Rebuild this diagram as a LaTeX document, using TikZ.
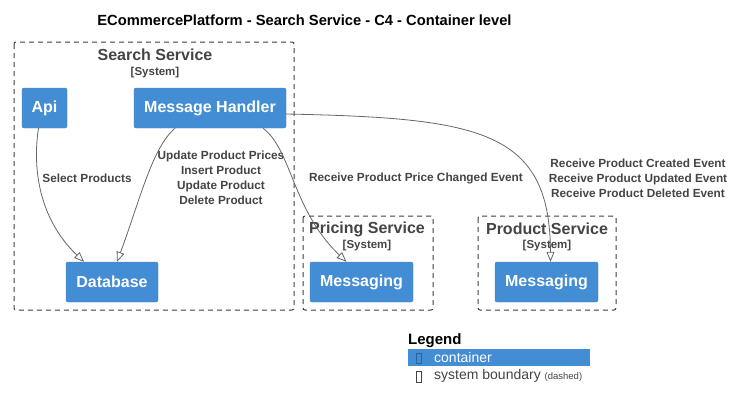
\documentclass[tikz,border=0pt]{standalone}
\usepackage{fontspec}
\setmainfont{Liberation Sans}
\usetikzlibrary{arrows.meta}
\definecolor{cblue}{HTML}{438DD5}
\definecolor{cgray}{HTML}{444444}
\definecolor{lgray}{HTML}{666666}
\begin{document}
\begin{tikzpicture}[x=1pt,y=-1pt,
    container/.style={fill=cblue, draw=cblue!90!black, rounded corners=2pt, text=white,
      font=\bfseries\fontsize{16}{18}\selectfont, minimum height=40pt, inner sep=0pt},
    boundary/.style={draw=cgray!90!black, line width=1pt, dash pattern=on 5pt off 4pt, rounded corners=2pt},
    btitle/.style={text=cgray, font=\bfseries\fontsize{16}{18}\selectfont},
    bsub/.style={text=cgray, font=\bfseries\fontsize{11.5}{13}\selectfont},
    rel/.style={draw=lgray, line width=0.8pt, -{Triangle[open,length=10pt,width=8pt]}},
    rellabel/.style={text=cgray, font=\bfseries\fontsize{11.8}{15}\selectfont, align=center}]
  \useasboundingbox (0,0) rectangle (735,410);
  \node (title) [font=\bfseries\fontsize{14.7}{17}\selectfont] at (304.5,20)
    {ECommercePlatform - Search Service - C4 - Container level};
  % boundaries
  \draw [boundary] (14,42) rectangle (294,310);
  \node (searchname) [btitle] at (155,55) {Search Service};
  \node (searchsys) [bsub] at (155,73) {[System]};
  \draw [boundary] (303,216) rectangle (433,310);
  \node (pricingname) [btitle] at (367,229) {Pricing Service};
  \node (pricingsys) [bsub] at (367,246) {[System]};
  \draw [boundary] (478,216) rectangle (616,310);
  \node (productname) [btitle] at (547,229) {Product Service};
  \node (productsys) [bsub] at (547,246) {[System]};
  % containers
  \node (api) [container, minimum width=45pt] at (44.5,108) {Api};
  \node (handler) [container, minimum width=152pt] at (210,108) {Message Handler};
  \node (db) [container, minimum width=92pt] at (112,282) {Database};
  \node (pricingmsg) [container, minimum width=103pt] at (361.5,282) {Messaging};
  \node (productmsg) [container, minimum width=103pt] at (546.5,282) {Messaging};
  % relations
  \draw [rel] ([xshift=-6pt]api.south) .. controls (32,170) and (40,220) .. ([xshift=-28pt]db.north);
  \node (selectlbl) [rellabel] at (87,178) {Select Products};
  \draw [rel] ([xshift=-35pt]handler.south) .. controls (152,148) and (140,200) .. ([xshift=5pt]db.north);
  \node (updatelbl) [rellabel] at (221,178)
    {Update Product Prices\\Insert Product\\Update Product\\Delete Product};
  \draw [rel] ([xshift=53pt]handler.south) .. controls (292,150) and (292,210) .. ([xshift=-15pt]pricingmsg.north);
  \node (pricelbl) [rellabel] at (416,178) {Receive Product Price Changed Event};
  \draw [rel] ([yshift=-6pt]handler.east) .. controls (480,118) and (550,130) .. ([xshift=4pt]productmsg.north);
  \node (productlbl) [rellabel] at (638,178)
    {Receive Product Created Event\\Receive Product Updated Event\\Receive Product Deleted Event};
  % legend
  \node (legend) [anchor=west, inner sep=0pt, font=\bfseries\fontsize{15}{17}\selectfont] at (408,341) {Legend};
  \fill [cblue] (408,349) rectangle (590,366);
  \draw [cblue!70!black, line width=0.6pt] (416,353) rectangle (421.5,363);
  \node (contlbl) [anchor=west, inner sep=0pt, text=white, font=\fontsize{14}{16}\selectfont] at (434,357.5) {container};
  \draw [cgray, line width=0.6pt] (416,371) rectangle (421.5,382);
  \node (sblbl) [anchor=west, inner sep=0pt, text=cgray, font=\fontsize{14}{16}\selectfont] at (434,376)
    {system boundary {\fontsize{9.5}{10}\selectfont (dashed)}};
\end{tikzpicture}
\end{document}
